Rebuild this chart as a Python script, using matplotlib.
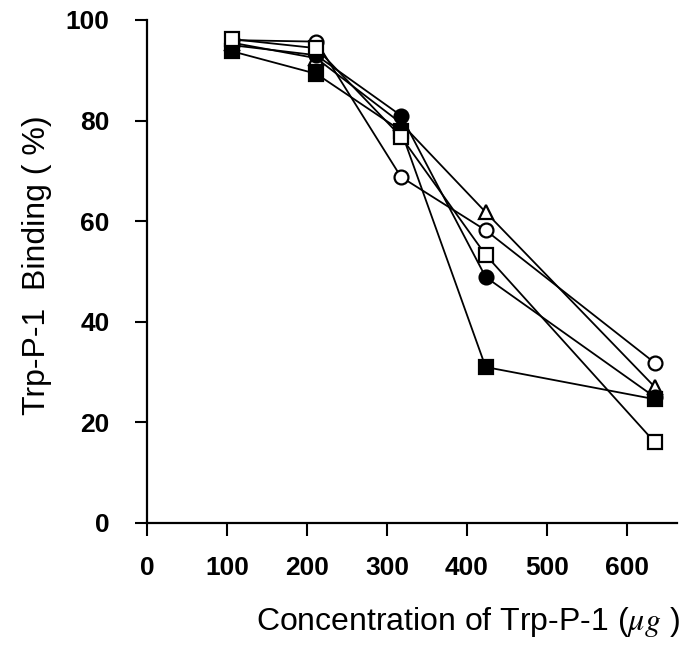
import matplotlib
matplotlib.use("Agg")
import matplotlib.pyplot as plt

plt.rcParams['font.family'] = ['Liberation Sans', 'DejaVu Sans']
plt.rcParams['mathtext.fontset'] = 'stix'

# concentration of Trp-P-1 (ug)
conc = [100, 200, 300, 400, 600]

# binding (%) for each sample
open_circle = [96.0, 95.7, 68.8, 58.2, 31.8]
open_triangle = [95.5, 92.4, 79.5, 61.8, 27.0]
filled_circle = [95.0, 93.0, 81.0, 48.9, 25.0]
filled_square = [93.8, 89.3, 78.0, 31.0, 24.6]
open_square = [96.2, 94.4, 76.8, 53.3, 16.0]

xtick_labels = [0, 100, 200, 300, 400, 500, 600]
ytick_labels = [0, 20, 40, 60, 80, 100]

fig = plt.figure(figsize=(6.83, 6.47), dpi=100)
ax = fig.add_axes([0.2152, 0.1917, 0.776, 0.7774])

series = [
    (open_circle, 'o', 'white'),
    (open_triangle, '^', 'white'),
    (filled_circle, 'o', 'black'),
    (filled_square, 's', 'black'),
    (open_square, 's', 'white'),
]
for vals, mk, fc in series:
    ax.plot(conc, vals, color='black', lw=1.3, marker=mk, ms=10,
            mfc=fc, mec='black', mew=1.6, clip_on=False)

ax.set_xlim(0, 626)
ax.set_ylim(0, 100)

# the printed tick marks sit slightly tighter than the plotted points
ax.set_xticks([v * 0.945 for v in xtick_labels])
ax.set_xticklabels([str(v) for v in xtick_labels], fontweight='bold')
ax.set_yticks(ytick_labels)
ax.set_yticklabels([str(v) for v in ytick_labels], fontweight='bold')

for s in ['top', 'right']:
    ax.spines[s].set_visible(False)
for s in ['left', 'bottom']:
    ax.spines[s].set_linewidth(1.6)

ax.tick_params(axis='x', direction='out', length=9, width=1.5, pad=15, labelsize=19)
ax.tick_params(axis='y', direction='out', length=9, width=1.5, pad=18, labelsize=19)

fig.text(37 / 683, 1 - 265 / 647, 'Trp-P-1  Binding ( %)', rotation=90,
         ha='center', va='center', fontsize=23)
fig.text(680 / 683, 1 - 630 / 647, r'Concentration of Trp-P-1 ($\mu g$ )',
         ha='right', va='baseline', fontsize=23)

fig.savefig('out.png', dpi=100)
